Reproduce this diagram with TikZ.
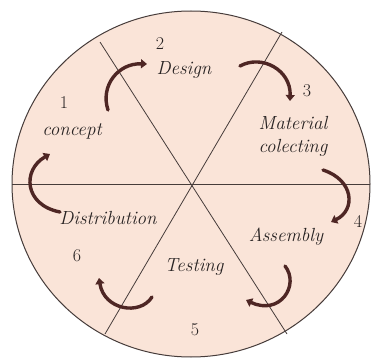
\documentclass[tikz,border=0pt]{standalone}
\usetikzlibrary{arrows.meta}
\definecolor{pfill}{RGB}{250,228,216}
\definecolor{pline}{RGB}{70,60,58}
\definecolor{parrow}{RGB}{78,38,36}
\definecolor{ptext}{RGB}{40,35,35}
\begin{document}
\begin{tikzpicture}[x=1pt,y=-1pt,
  lbl/.style={font=\fontsize{19}{23}\selectfont\itshape, text=ptext, inner sep=0pt, align=center},
  num/.style={font=\fontsize{18}{20}\selectfont, text=ptext, inner sep=0pt},
  cyc/.style={draw=parrow, line width=3.4pt, line cap=round, -{Triangle[length=6pt,width=9pt]}},
  divider/.style={draw=pline, line width=0.8pt}]
\useasboundingbox (0,0) rectangle (375,361);
\fill[white] (0,0) rectangle (375,361);
% wheel
\filldraw[fill=pfill, draw=pline, line width=1pt] (191,184) ellipse [x radius=179, y radius=173];
\coordinate (c) at (191,184);
\coordinate (l1a) at (282,32);
\coordinate (l1b) at (105,334);
\coordinate (l2a) at (100,42);
\coordinate (l2b) at (287,334);
\coordinate (h1) at (12,184);
\coordinate (h2) at (370,184);
\draw[divider] (l1a) -- (l1b);
\draw[divider] (l2a) -- (l2b);
\draw[divider] (h1) -- (h2);
% labels
\node[num] (n1) at (64,103) {1};
\node[lbl] (concept) at (72,131) {concept};
\node[num] (n2) at (160,44) {2};
\node[lbl] (design) at (184,70) {Design};
\node[num] (n3) at (307,91) {3};
\node[lbl] (material) at (293,136) {Material\\colecting};
\node[num] (n4) at (358,221) {4};
\node[lbl] (assembly) at (286,237) {Assembly};
\node[num] (n5) at (195,330) {5};
\node[lbl] (testing) at (194,267) {Testing};
\node[num] (n6) at (77,256) {6};
\node[lbl] (distribution) at (108,218) {Distribution};
% cycle arrows
\coordinate (a1s) at (108,110); \coordinate (a1e) at (147,64);
\coordinate (a2s) at (240,66);  \coordinate (a2e) at (290,101);
\coordinate (a3s) at (323,170); \coordinate (a3e) at (331,222);
\coordinate (a4s) at (285,266); \coordinate (a4e) at (246,300);
\coordinate (a5s) at (152,297); \coordinate (a5e) at (99,278);
\coordinate (a6s) at (60,212);  \coordinate (a6e) at (50,154);
\draw[cyc] (a1s) .. controls (100,86) and (118,63) .. (a1e);
\draw[cyc] (a2s) .. controls (262,54) and (291,70) .. (a2e);
\draw[cyc] (a3s) .. controls (354,180) and (356,210) .. (a3e);
\draw[cyc] (a4s) .. controls (300,285) and (280,316) .. (a4e);
\draw[cyc] (a5s) .. controls (140,316) and (104,310) .. (a5e);
\draw[cyc] (a6s) .. controls (24,205) and (22,170) .. (a6e);
\end{tikzpicture}
\end{document}
